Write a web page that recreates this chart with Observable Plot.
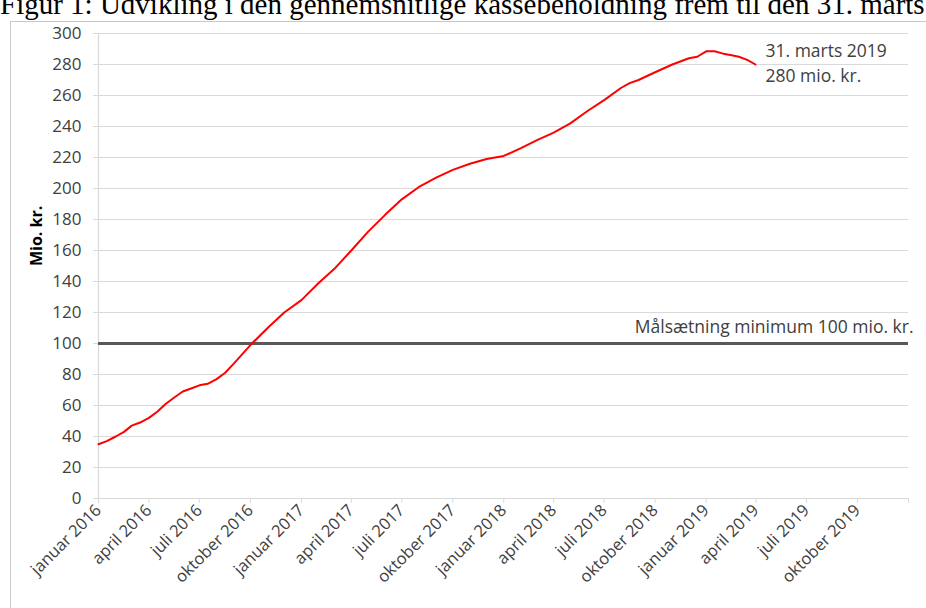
<!DOCTYPE html>
<html>
<head>
<meta charset="utf-8">
<script src="https://cdn.jsdelivr.net/npm/d3@7"></script>
<script src="https://cdn.jsdelivr.net/npm/@observablehq/plot@0.6"></script>
<style>
  html, body { margin: 0; padding: 0; background: #fff; overflow: hidden; }
  #wrap { position: relative; width: 926px; height: 608px; overflow: hidden; }
  #title { position: absolute; left: 0; top: -12px; white-space: nowrap; line-height: 1.15;
           font-family: "Liberation Serif", "DejaVu Serif", serif; font-size: 29px; color: #000; }
  #frame { position: absolute; left: 10px; top: 21px; width: 1000px; height: 700px;
           border: 1px solid #c8c8c8; box-sizing: border-box; }
  #chart { position: absolute; left: 0; top: 0; }
</style>
</head>
<body>
<div id="wrap">
  <div id="title">Figur 1: Udvikling i den gennemsnitlige kassebeholdning frem til den 31. marts 2019</div>
  <div id="frame"></div>
  <div id="chart"></div>
</div>
<script>
// Observations (mio. kr.)
const dates = [
  "2016-01-01","2016-01-16","2016-02-01","2016-02-16","2016-03-01","2016-03-16",
  "2016-04-01","2016-04-16","2016-05-01","2016-05-16","2016-06-01","2016-06-16",
  "2016-07-01","2016-07-16","2016-08-01","2016-08-16","2016-09-01","2016-09-16",
  "2016-10-01","2016-11-01","2016-12-01",
  "2017-01-01","2017-02-01","2017-03-01","2017-04-01","2017-05-01","2017-06-01",
  "2017-07-01","2017-08-01","2017-09-01","2017-10-01","2017-11-01","2017-12-01",
  "2018-01-01","2018-02-01","2018-03-01","2018-04-01","2018-05-01","2018-06-01",
  "2018-07-01","2018-08-01","2018-08-16","2018-09-01","2018-10-01","2018-11-01","2018-12-01",
  "2018-12-16","2019-01-01","2019-01-16","2019-02-01","2019-02-16","2019-03-01","2019-03-16","2019-03-31"
];
const values = [
  35, 37, 40, 43, 47, 49,
  52, 56, 61, 65, 69, 71,
  73, 74, 77, 81, 87, 93,
  99, 110, 120,
  128, 139, 148, 160, 172, 183,
  193, 201, 207, 212, 216, 219,
  221, 226, 231, 236, 242, 250,
  257, 265, 268, 270, 275, 280, 284,
  285, 288.5, 288.5, 287, 286, 285, 283, 280
];
const tickDates = [
  "2016-01-01","2016-04-01","2016-07-01","2016-10-01",
  "2017-01-01","2017-04-01","2017-07-01","2017-10-01",
  "2018-01-01","2018-04-01","2018-07-01","2018-10-01",
  "2019-01-01","2019-04-01","2019-07-01","2019-10-01","2020-01-01"
];
const tickLabels = [
  "januar 2016","april 2016","juli 2016","oktober 2016",
  "januar 2017","april 2017","juli 2017","oktober 2017",
  "januar 2018","april 2018","juli 2018","oktober 2018",
  "januar 2019","april 2019","juli 2019","oktober 2019",""
];
const yTicks = [0,20,40,60,80,100,120,140,160,180,200,220,240,260,280,300];
const targetValue = 100;
const targetLabel = "Målsætning minimum 100 mio. kr.";
const endLabel = "31. marts 2019\n280 mio. kr.";
const yLabel = "Mio. kr.";

const parse = d3.utcParse("%Y-%m-%d");
const data = dates.map((d, i) => ({date: parse(d), value: values[i]}));
const ticks = tickDates.map(parse);
const labelMap = new Map(ticks.map((t, i) => [+t, tickLabels[i]]));
const xDomain = [ticks[0], ticks[ticks.length - 1]];
const last = data[data.length - 1];

const grid = "#d9d9d9";
const textCol = "#404040";

const chart = Plot.plot({
  width: 926,
  height: 608,
  marginLeft: 98,
  marginRight: 18,
  marginTop: 33,
  marginBottom: 110,
  style: {fontFamily: "'Open Sans', sans-serif", fontSize: "17px", color: textCol, background: "transparent"},
  x: {type: "utc", domain: xDomain},
  y: {domain: [0, 300]},
  marks: [
    Plot.ruleY(yTicks, {stroke: grid, strokeWidth: 1.2}),
    Plot.ruleX([xDomain[0]], {stroke: grid, strokeWidth: 1.2}),
    Plot.axisY(yTicks, {tickSize: 5, tickPadding: 12, stroke: grid, label: null, fill: textCol, fontSize: 17}),
    Plot.axisX(ticks, {tickSize: 5, tickPadding: 4, tickRotate: -45, stroke: grid, label: null,
      tickFormat: d => labelMap.get(+d), fill: textCol, fontSize: 16.5}),
    Plot.ruleY([targetValue], {stroke: "#595959", strokeWidth: 3}),
    Plot.line(data, {x: "date", y: "value", stroke: "#ff0000", strokeWidth: 2}),
    Plot.text([targetLabel], {x: () => xDomain[1], y: () => targetValue, text: d => d,
      textAnchor: "end", dx: 5, dy: -16, fill: textCol, fontSize: 17.5}),
    Plot.text([last], {x: "date", y: "value", text: () => endLabel, textAnchor: "start",
      lineAnchor: "middle", lineHeight: 1.45, dx: 10, dy: -3, fill: textCol, fontSize: 17.5}),
    Plot.text([yLabel], {frameAnchor: "left", text: d => d, rotate: -90, dx: -62,
      fontWeight: "bold", fill: "#000", fontSize: 16})
  ]
});
document.getElementById("chart").appendChild(chart);
</script>
</body>
</html>
